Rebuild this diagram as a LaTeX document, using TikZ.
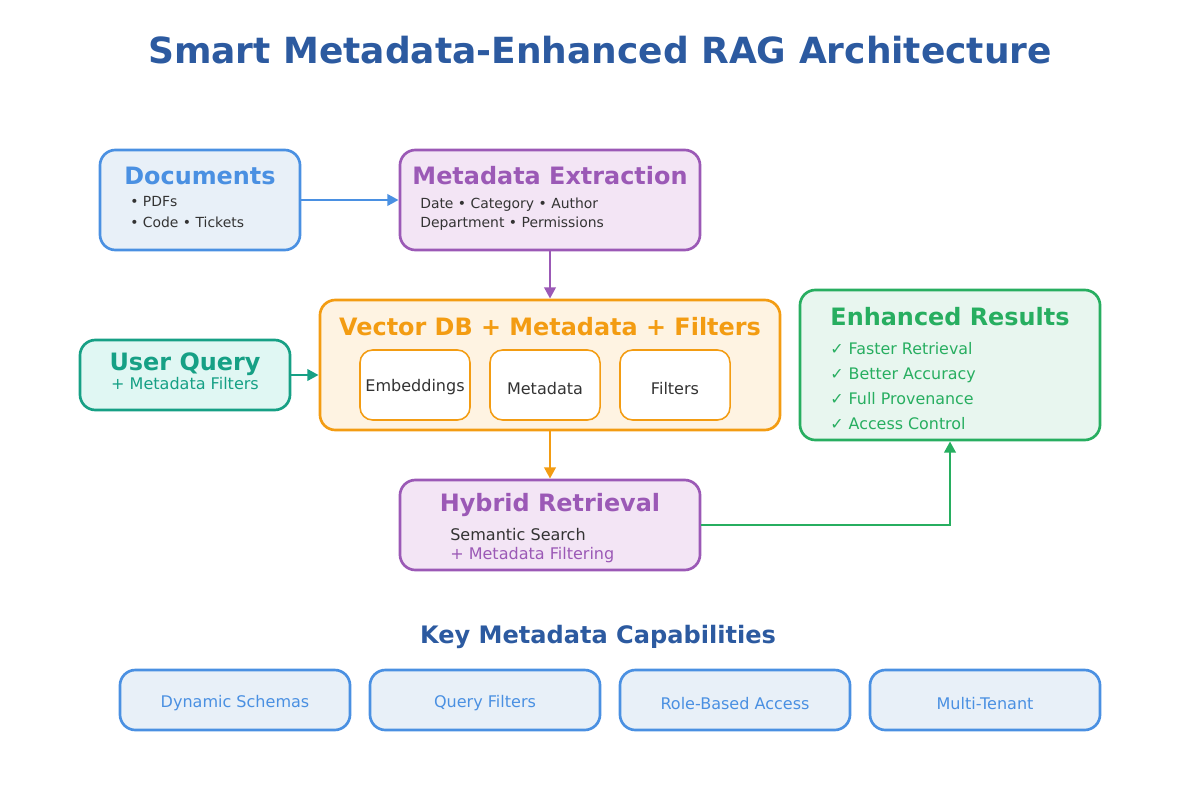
\documentclass[tikz,border=0pt]{standalone}
\usepackage{fontspec}
\setmainfont{DejaVu Sans}
\usetikzlibrary{arrows.meta}

\definecolor{docblue}{HTML}{4A90E2}
\definecolor{docfill}{HTML}{E8F0F8}
\definecolor{metapurple}{HTML}{9B59B6}
\definecolor{metafill}{HTML}{F3E5F5}
\definecolor{vecorange}{HTML}{F39C12}
\definecolor{vecfill}{HTML}{FEF3E2}
\definecolor{queryteal}{HTML}{16A085}
\definecolor{queryfill}{HTML}{E0F7F3}
\definecolor{resgreen}{HTML}{27AE60}
\definecolor{resfill}{HTML}{E8F6EF}
\definecolor{titleblue}{HTML}{2C5AA0}
\definecolor{bodygray}{HTML}{333333}

\newcommand{\headfont}{\fontsize{17}{20}\selectfont\bfseries}
\newcommand{\bodyfont}{\fontsize{11.4}{14}\selectfont}
\newcommand{\smallfont}{\fontsize{9.9}{12}\selectfont}

\begin{document}
\begin{tikzpicture}[x=0.025cm,y=-0.025cm,
  panel/.style={rounded corners=11pt,line width=1.9pt,inner sep=0pt},
  inbox/.style={draw=vecorange,fill=white,rounded corners=9pt,line width=1.1pt,
    minimum width=2.75cm,minimum height=1.75cm,inner sep=0pt},
  capbox/.style={panel,draw=docblue,fill=docfill,minimum width=5.75cm,minimum height=1.5cm},
  head/.style={anchor=base,font=\headfont},
  line/.style={anchor=base west,font=\smallfont,text=bodygray,inner sep=0pt},
  flow/.style={line width=2pt,-{Triangle[length=8pt,width=8pt]}}]
  \useasboundingbox (0,0) rectangle (1200,800);

  \node[anchor=base,text=titleblue,font=\fontsize{25.6}{30}\selectfont\bfseries]
    (title) at (600,64) {Smart Metadata-Enhanced RAG Architecture};

  % sources
  \node[panel,draw=docblue,fill=docfill,minimum width=5cm,minimum height=2.5cm] (docs) at (200,200) {};
  \node[head,text=docblue] (docshead) at (200,185) {Documents};
  \node[line] (docsa) at (130,207) {• PDFs};
  \node[line] (docsb) at (130,228) {• Code • Tickets};

  \node[panel,draw=metapurple,fill=metafill,minimum width=7.5cm,minimum height=2.5cm] (meta) at (550,200) {};
  \node[head,text=metapurple] (metahead) at (550,185) {Metadata Extraction};
  \node[line] (metaa) at (420,208) {Date • Category • Author};
  \node[line] (metab) at (420,228) {Department • Permissions};

  % store
  \node[panel,draw=vecorange,fill=vecfill,minimum width=11.5cm,minimum height=3.25cm] (vec) at (550,365) {};
  \node[head,text=vecorange] (vechead) at (550,335) {Vector DB + Metadata + Filters};
  \node[inbox] (emb) at (415,385) {};
  \node[inbox] (mdat) at (545,385) {};
  \node[inbox] (filt) at (675,385) {};
  \node[anchor=base,font=\bodyfont,text=bodygray] (embl) at (415,391) {Embeddings};
  \node[anchor=base,font=\bodyfont,text=bodygray] (mdatl) at (545,394) {Metadata};
  \node[anchor=base,font=\bodyfont,text=bodygray] (filtl) at (675,394) {Filters};

  \node[panel,draw=queryteal,fill=queryfill,minimum width=5.25cm,minimum height=1.75cm] (query) at (185,375) {};
  \node[head,text=queryteal] (queryhead) at (185,370) {User Query};
  \node[anchor=base,font=\bodyfont,text=queryteal] (querysub) at (185,389) {+ Metadata Filters};

  % retrieval
  \node[panel,draw=metapurple,fill=metafill,minimum width=7.5cm,minimum height=2.25cm] (hyb) at (550,525) {};
  \node[head,text=metapurple] (hybhead) at (550,511) {Hybrid Retrieval};
  \node[anchor=base west,inner sep=0pt,font=\bodyfont,text=bodygray] (hyba) at (450,540) {Semantic Search};
  \node[anchor=base west,inner sep=0pt,font=\bodyfont,text=metapurple] (hybb) at (450,559) {+ Metadata Filtering};

  \node[panel,draw=resgreen,fill=resfill,minimum width=7.5cm,minimum height=3.75cm] (res) at (950,365) {};
  \node[head,text=resgreen] (reshead) at (950,325) {Enhanced Results};
  \foreach \txt [count=\k] in {Faster Retrieval,Better Accuracy,Full Provenance,Access Control} {
    \node[anchor=base west,inner sep=0pt,font=\fontsize{11.3}{13}\selectfont,text=resgreen]
      (res\k) at (830,329+25*\k) {✓ \txt};
  }

  % connectors
  \draw[flow,docblue] (docs) -- (meta);
  \draw[flow,metapurple] (meta) -- (vec);
  \draw[flow,queryteal] (query.east) -- (query.east -| vec.west);
  \draw[flow,vecorange] (vec) -- (hyb);
  \draw[flow,resgreen] (hyb.east) -| (res.south);

  % capabilities
  \node[anchor=base,text=titleblue,font=\fontsize{17.1}{20}\selectfont\bfseries]
    (caphead) at (598,643) {Key Metadata Capabilities};
  \foreach \txt/\cx/\by [count=\k] in {Dynamic Schemas/235/707,Query Filters/485/707,
      Role-Based Access/735/709,Multi-Tenant/985/709} {
    \node[capbox] (cap\k) at (\cx,700) {};
    \node[anchor=base,font=\bodyfont,text=docblue] (capl\k) at (\cx,\by) {\txt};
  }
\end{tikzpicture}
\end{document}
